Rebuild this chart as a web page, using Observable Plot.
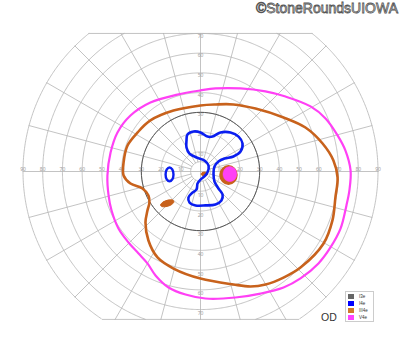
<!DOCTYPE html>
<html><head><meta charset="utf-8">
<script src="https://cdn.jsdelivr.net/npm/d3@7"></script>
<script src="https://cdn.jsdelivr.net/npm/@observablehq/plot@0.6"></script>
<style>
body{margin:0;background:#fff;font-family:Arial,"Liberation Sans",sans-serif}
#wrap{position:relative;width:400px;height:352px;overflow:hidden}
#wrap svg{position:absolute;left:0;top:0}
#copy{position:absolute;right:2px;top:1px;font-size:14px;line-height:14px;color:#f4f4f4;-webkit-text-stroke:0.8px #555;white-space:nowrap}
#od{position:absolute;left:321px;top:312px;font-size:10.5px;line-height:10.5px;color:#333}
#legend{position:absolute;left:345px;top:291px;width:27px;height:29px;border:1px solid #ccc;background:#fff}
.row{position:absolute;left:2px;height:6px;font-size:4.5px;line-height:6px;color:#333;white-space:nowrap}
.sw{display:inline-block;width:6px;height:5.5px;vertical-align:top;margin-right:5px}
</style></head><body>
<div id="wrap"></div>
<script>
// ---- chart values (degrees of visual field) ----
const rings = [5, 10, 20, 30, 40, 50, 60, 70, 80, 90];
const meridians = [0, 15, 30, 45, 60, 75, 90, 105, 120, 135, 150, 165, 180, 195, 210, 225, 240, 255, 270, 285, 300, 315, 330, 345];
const tickLabels = [10, 20, 30, 40, 50, 60, 70, 80, 90];
const vTickLabels = [10, 20, 30, 40, 50, 60, 70];
const topLimit = 70, bottomLimit = -75, outerRing = 90;

// I3e isopter: eccentricity per meridian
const i3eEcc = [30, 30, 30, 30, 30, 30, 30, 30, 30, 30, 30, 30, 30, 30, 30, 30, 30, 30, 30, 30, 30, 30, 30, 30];

// I4e isopter (x, y in degrees)
const i4eMain = [[-7.1,15.7],[-6.6,18.8],[-3.5,20.3],[0,19.8],[3.5,17.7],[6.1,17.7],[10.1,19.8],[15.2,19.8],[19.3,17.7],[21.3,14.2],[20.3,10.1],[16.7,7.6],[12.2,6.6],[9.1,5.1],[7.1,2.5],[6.6,-1.0],[7.1,-5.1],[9.1,-8.6],[11.2,-11.7],[10.6,-14.7],[7.6,-16.7],[2.5,-17.2],[-2.5,-17.2],[-5.6,-15.7],[-6.1,-13.2],[-4.6,-11.2],[-2.0,-9.1],[-1.5,-6.1],[0,-4.1],[2.0,-2.5],[3.5,-0.5],[4.1,3.0],[2.0,5.6],[-2.0,7.1],[-5.6,9.1],[-7.1,12.2]];
const i4eIsland = [[-15.7,2.0],[-14.3,1.0],[-13.7,-1.5],[-14.3,-4.0],[-15.7,-5.0],[-17.1,-4.0],[-17.7,-1.5],[-17.1,1.0]];

// III4e isopter
const iii4eMain = [[0,33.5],[7.6,34.0],[16.7,34.0],[27.9,31.9],[42.1,27.4],[53.2,22.3],[61.9,14.2],[67.4,5.6],[69.5,-3.0],[68.4,-13.2],[66.9,-24.8],[62.4,-36.5],[50.7,-48.7],[42.1,-53.8],[33.0,-57.3],[25.4,-58.3],[16.7,-57.3],[0,-54.3],[-13.7,-49.2],[-21.8,-43.6],[-26.4,-35.0],[-27.9,-25.9],[-26.9,-19.8],[-25.9,-15.7],[-26.4,-12.2],[-29.4,-8.6],[-35.5,-6.1],[-39.0,-2.0],[-39.0,4.6],[-37.0,13.2],[-31.9,19.8],[-25.4,25.9],[-13.7,30.9]];
const iii4eCenter = [[2.0,-0.3],[3.2,-0.6],[3.7,-1.3],[3.2,-2.0],[2.0,-2.3],[0.8,-2.0],[0.3,-1.3],[0.8,-0.6]];
const iii4eLowerLeft = [[-20.3,-17.0],[-19.0,-15.5],[-16.5,-14.5],[-14.0,-14.5],[-13.5,-15.5],[-15.0,-17.0],[-17.5,-17.8],[-19.5,-17.8]];
const iii4eBlindSpot = [[14.2,2.9],[17.2,1.5],[18.5,-1.8],[17.2,-5.1],[14.2,-6.5],[11.2,-5.1],[9.9,-1.8],[11.2,1.5]];

// V4e isopter
const v4eMain = [[0,41.1],[7.6,42.1],[20.3,42.1],[32.9,40.6],[43.1,38.0],[55.8,33.0],[63.4,26.9],[69.5,18.3],[73.5,10.6],[76.1,0.5],[75.5,-9.6],[74.0,-17.2],[71.0,-29.0],[65.9,-38.5],[59.8,-46.6],[50.7,-54.2],[42.1,-58.8],[30.4,-61.9],[17.7,-63.9],[2.5,-64.4],[-7.6,-62.4],[-16.2,-58.8],[-22.8,-52.7],[-26.9,-46.6],[-31.4,-41.6],[-36.5,-36.0],[-41.6,-28.9],[-45.1,-19.8],[-46.6,-12.2],[-47.2,-2.0],[-45.6,9.6],[-42.1,19.8],[-35.5,28.4],[-25.4,35.0],[-11.7,39.0]];
const v4eBlindSpot = [[14.9,2.5],[17.4,1.4],[18.4,-1.3],[17.4,-4.0],[14.9,-5.1],[12.4,-4.0],[11.4,-1.3],[12.4,1.4]];

const legendLabels = ["I3e", "I4e", "III4e", "V4e"];
const legendColors = ["#666666", "#0000ff", "#d07a2c", "#ff44ff"];
const lineColors = {i3e: "#555555", i4e: "#0a1ef0", iii4e: "#c8621c", v4e: "#ff40f5"};
const copyright = "©StoneRoundsUIOWA";
const eyeLabel = "OD";

// ---- helpers ----
const rad = d => d * Math.PI / 180;
const inside = y => y <= topLimit + 1e-9 && y >= bottomLimit - 1e-9;
const pts = arr => arr.map(([x, y]) => ({x, y}));

// ring gridlines (broken where clipped by the chart limits)
const ringPts = [];
for (const r of rings) {
  for (let a = 0; a <= 360; a += 0.5) {
    const x = r * Math.cos(rad(a)), y = r * Math.sin(rad(a));
    ringPts.push({r, x, y: inside(y) ? y : NaN});
  }
}
// meridian gridlines
const merPts = [];
for (const m of meridians) {
  const s = Math.sin(rad(m));
  let rEnd = outerRing;
  if (s > 1e-9) rEnd = Math.min(outerRing, topLimit / s);
  if (s < -1e-9) rEnd = Math.min(outerRing, -bottomLimit / -s);
  const rStart = (m % 90 === 0) ? 0 : rings[0];
  for (const r of [rStart, rEnd]) merPts.push({m, x: r * Math.cos(rad(m)), y: r * Math.sin(rad(m))});
}
// chord limits
const topHalf = Math.sqrt(outerRing ** 2 - topLimit ** 2);
const botHalf = Math.sqrt(outerRing ** 2 - bottomLimit ** 2);
const chords = [
  {k: "t", x: -topHalf, y: topLimit}, {k: "t", x: topHalf, y: topLimit},
  {k: "b", x: -botHalf, y: bottomLimit}, {k: "b", x: botHalf, y: bottomLimit}
];
const hLabels = [...tickLabels.map(t => ({x: -t, t})), ...tickLabels.map(t => ({x: t, t}))];
const upLabels = vTickLabels.map(t => ({y: t, t}));
const downLabels = vTickLabels.map(t => ({y: -t, t}));
const i3ePts = meridians.map((m, i) => ({x: i3eEcc[i] * Math.cos(rad(m)), y: i3eEcc[i] * Math.sin(rad(m))}));

const grid = "#b4b4b4";
const closed = "catmull-rom-closed";
const chart = Plot.plot({
  width: 400, height: 352,
  margin: 0,
  x: {domain: [-90, 90], range: [22.5, 377.5], axis: null},
  y: {domain: [-90, 90], range: [348.5, -6.5], axis: null},
  style: {background: "transparent"},
  marks: [
    Plot.line(ringPts, {x: "x", y: "y", z: "r", stroke: grid, strokeWidth: 0.8}),
    Plot.line(merPts, {x: "x", y: "y", z: "m", stroke: grid, strokeWidth: 0.8}),
    Plot.line(chords, {x: "x", y: "y", z: "k", stroke: grid, strokeWidth: 0.8}),
    Plot.text(hLabels, {x: "x", y: 0, text: d => String(d.t), fontSize: 5, fill: "#a0a0a0", dy: -2.5}),
    Plot.text(upLabels, {x: 0, y: "y", text: d => String(d.t), fontSize: 5, fill: "#a0a0a0", dy: 2.5}),
    Plot.text(downLabels, {x: 0, y: "y", text: d => String(d.t), fontSize: 5, fill: "#a0a0a0", dy: 4}),
    Plot.line(i3ePts, {x: "x", y: "y", curve: closed, stroke: lineColors.i3e, strokeWidth: 1}),
    Plot.line(pts(v4eMain), {x: "x", y: "y", curve: closed, stroke: lineColors.v4e, strokeWidth: 2.2}),
    Plot.line(pts(iii4eMain), {x: "x", y: "y", curve: closed, stroke: lineColors.iii4e, strokeWidth: 2.6}),
    Plot.line(pts(iii4eCenter), {x: "x", y: "y", curve: closed, stroke: lineColors.iii4e, fill: lineColors.iii4e, strokeWidth: 1}),
    Plot.line(pts(iii4eLowerLeft), {x: "x", y: "y", curve: closed, stroke: lineColors.iii4e, fill: lineColors.iii4e, strokeWidth: 1}),
    Plot.line(pts(iii4eBlindSpot), {x: "x", y: "y", curve: closed, stroke: lineColors.iii4e, fill: lineColors.iii4e, strokeWidth: 1.5}),
    Plot.line(pts(v4eBlindSpot), {x: "x", y: "y", curve: closed, stroke: lineColors.v4e, fill: lineColors.v4e, strokeWidth: 0.5}),
    Plot.line(pts(i4eMain), {x: "x", y: "y", curve: closed, stroke: lineColors.i4e, strokeWidth: 2.6}),
    Plot.line(pts(i4eIsland), {x: "x", y: "y", curve: closed, stroke: lineColors.i4e, strokeWidth: 2.4})
  ]
});
const wrap = document.getElementById("wrap");
wrap.appendChild(chart);

const cp = document.createElement("div"); cp.id = "copy"; cp.textContent = copyright; wrap.appendChild(cp);
const od = document.createElement("div"); od.id = "od"; od.textContent = eyeLabel; wrap.appendChild(od);
const lg = document.createElement("div"); lg.id = "legend";
legendLabels.forEach((l, i) => {
  const row = document.createElement("div"); row.className = "row"; row.style.top = (1.5 + i * 7) + "px";
  const sw = document.createElement("span"); sw.className = "sw"; sw.style.background = legendColors[i];
  row.appendChild(sw); row.appendChild(document.createTextNode(l)); lg.appendChild(row);
});
wrap.appendChild(lg);
</script>
</body></html>
